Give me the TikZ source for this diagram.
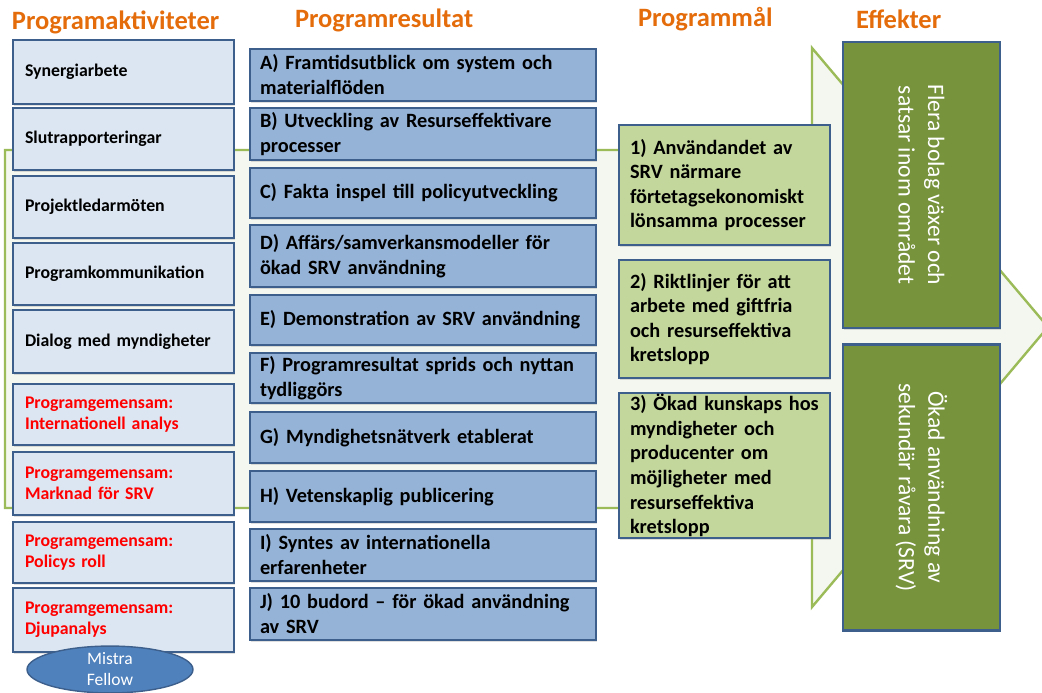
\documentclass[tikz,border=0pt]{standalone}
\usepackage{fontspec}
\setmainfont{Carlito}
\usetikzlibrary{shapes.geometric,shadows}

\definecolor{headorange}{HTML}{E46C0A}
\definecolor{boxline}{HTML}{3D5F8C}
\definecolor{actfill}{HTML}{DCE6F2}
\definecolor{resfill}{HTML}{95B3D7}
\definecolor{goalfill}{HTML}{C3D69B}
\definecolor{efffill}{HTML}{77933C}
\definecolor{arrowline}{HTML}{9BBB59}
\definecolor{arrowfill}{HTML}{F4F7EF}
\definecolor{redtxt}{HTML}{FF0000}
\definecolor{ellfill}{HTML}{4F81BD}

\begin{document}
\begin{tikzpicture}[x=1pt,y=-1pt,
  every node/.style={inner sep=0pt, outer sep=0pt},
  head/.style={anchor=base west, text=headorange,
    font=\bfseries\fontsize{26.5}{30}\selectfont},
  boxbase/.style={rectangle, draw=boxline, line width=2.4pt, align=left,
    execute at begin node={\hyphenpenalty=10000},
    drop shadow={shadow xshift=1pt, shadow yshift=-1.5pt, opacity=.25}},
  actbox/.style={boxbase, fill=actfill, text width=197pt, inner xsep=12pt,
    font=\bfseries\fontsize{17.8}{21}\selectfont},
  redact/.style={actbox, text=redtxt},
  resbox/.style={boxbase, fill=resfill, text width=326pt, inner xsep=10pt,
    font=\bfseries\fontsize{20.3}{25}\selectfont},
  goalbox/.style={boxbase, fill=goalfill, text width=189pt, inner xsep=11pt,
    font=\bfseries\fontsize{20.3}{24.6}\selectfont},
  effbox/.style={boxbase, fill=efffill, rotate=-90, align=center, text=white,
    minimum width=286pt, minimum height=157pt,
    font=\fontsize{23.5}{29.5}\selectfont},
  fellow/.style={ellipse, draw=boxline, line width=1.4pt, fill=ellfill,
    minimum width=166pt, minimum height=45pt, align=center, text=white,
    font=\fontsize{17.5}{21}\selectfont}
]
\useasboundingbox (0,0) rectangle (1042,693);

% background arrow that carries the whole chain
\coordinate (aTL) at (5,150);
\coordinate (aTR) at (812,150);
\coordinate (aHT) at (812,48);
\coordinate (aTip) at (1048,327);
\coordinate (aHB) at (812,607);
\coordinate (aBR) at (812,508);
\coordinate (aBL) at (5,508);
\draw[arrowline, line width=2.4pt, fill=arrowfill, line join=miter]
  (aTL) -- (aTR) -- (aHT) -- (aTip) -- (aHB) -- (aBR) -- (aBL) -- cycle;

% column headings
\node[head] (hAkt) at (12,30) {Programaktiviteter};
\node[head] (hRes) at (295,28) {Programresultat};
\node[head] (hMal) at (638,27) {Programmål};
\node[head] (hEff) at (856,29) {Effekter};

% program activities
\node[actbox, minimum height=64pt] (a1) at (123.5,72)  {Synergiarbete};
\node[actbox, minimum height=62pt] (a2) at (123.5,139) {Slutrapporteringar};
\node[actbox, minimum height=62pt] (a3) at (123.5,207) {Projektledarmöten};
\node[actbox, minimum height=62pt] (a4) at (123.5,274) {Programkommunikation};
\node[actbox, minimum height=63pt] (a5) at (123.5,341.5) {Dialog med myndigheter};
\node[redact, minimum height=61pt] (a6) at (123.5,414.5) {Programgemensam:\\Internationell analys};
\node[redact, minimum height=63pt] (a7) at (123.5,483.5) {Programgemensam:\\Marknad för SRV};
\node[redact, minimum height=61pt] (a8) at (123.5,552.5) {Programgemensam:\\Policys roll};
\node[redact, minimum height=64pt] (a9) at (123.5,620) {Programgemensam:\\Djupanalys};
\node[fellow] (mf) at (110,669.5) {Mistra\\Fellow};

% program results
\node[resbox, minimum height=52pt] (rA) at (423,75)  {A) Framtidsutblick om system och\\materialflöden};
\node[resbox, minimum height=52pt] (rB) at (423,134) {B) Utveckling av Resurseffektivare\\processer};
\node[resbox, minimum height=50pt] (rC) at (423,193) {C) Fakta inspel till policyutveckling};
\node[resbox, minimum height=62pt] (rD) at (423,256) {D) Affärs/samverkansmodeller för\\ökad SRV användning};
\node[resbox, minimum height=50pt] (rE) at (423,320) {E) Demonstration av SRV användning};
\node[resbox, minimum height=50pt] (rF) at (423,378) {F) Programresultat sprids och nyttan\\tydliggörs};
\node[resbox, minimum height=51pt] (rG) at (423,437.5) {G) Myndighetsnätverk etablerat};
\node[resbox, minimum height=51pt] (rH) at (423,496.5) {H) Vetenskaplig publicering};
\node[resbox, minimum height=52pt] (rI) at (423,555) {I) Syntes av internationella\\erfarenheter};
\node[resbox, minimum height=52pt] (rJ) at (423,614) {J) 10 budord -- för ökad användning\\av SRV};

% program goals
\node[goalbox, minimum height=120pt] (g1) at (724.5,185)
  {1) Användandet av\\SRV närmare\\förtetagsekonomiskt\\lönsamma processer};
\node[goalbox, minimum height=118pt] (g2) at (724.5,319)
  {2) Riktlinjer för att\\arbete med giftfria\\och resurseffektiva\\kretslopp};
\node[goalbox, minimum height=145pt] (g3) at (724.5,465.5)
  {3) Ökad kunskaps hos\\myndigheter och\\producenter om\\möjligheter med\\resurseffektiva\\kretslopp};

% effects
\node[effbox] (e1) at (921.5,185) {Flera bolag växer och\\satsar inom området};
\node[effbox] (e2) at (921.5,487.5) {Ökad användning av\\sekundär råvara (SRV)};
\end{tikzpicture}
\end{document}
